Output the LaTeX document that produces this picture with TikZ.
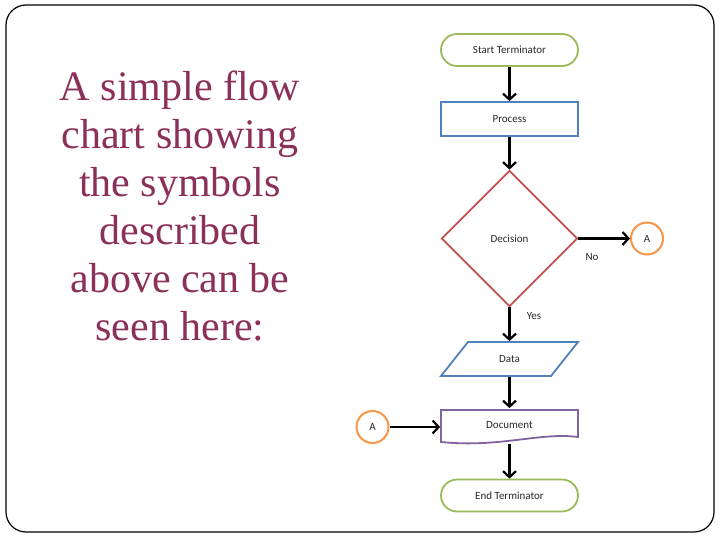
\documentclass[tikz,border=0pt]{standalone}
\usepackage{fontspec}
\setmainfont{Liberation Serif}
\newfontfamily\chartfont{Carlito}
\usetikzlibrary{arrows.meta,shapes.geometric}
\definecolor{titlecol}{RGB}{139,48,88}
\definecolor{termgreen}{HTML}{9BBB59}
\definecolor{procblue}{HTML}{4F81BD}
\definecolor{decred}{HTML}{C0504D}
\definecolor{conorange}{HTML}{F79646}
\definecolor{docpurple}{HTML}{8064A2}
\definecolor{labtext}{RGB}{40,40,40}
\begin{document}
\begin{tikzpicture}[x=1pt,y=-1pt,
  chart/.style={font=\chartfont\fontsize{11}{13}\selectfont, text=labtext, inner sep=0pt},
  shapebox/.style={chart, minimum width=137pt, minimum height=33pt, line width=1.8pt},
  term/.style={shapebox, draw=termgreen, rounded corners=16pt, minimum height=32pt},
  procbox/.style={shapebox, draw=procblue, minimum height=34pt},
  decbox/.style={chart, diamond, draw=decred, line width=1.8pt, minimum width=136pt, minimum height=136pt},
  connector/.style={chart, circle, draw=conorange, line width=2pt, minimum size=32pt},
  plainbox/.style={shapebox},
  flow/.style={-{Straight Barb[length=6pt,width=13pt]}, line width=2.2pt, black},
  lab/.style={chart}]
\useasboundingbox (0,0) rectangle (720,540);
\fill[white] (0,0) rectangle (720,540);
\draw[line width=1.2pt, rounded corners=20pt] (6,5) rectangle (714,532);

\node[font=\fontsize{42}{48}\selectfont, text=titlecol, align=center, inner sep=0pt] (title) at (180,206)
  {A simple flow\\chart showing\\the symbols\\described\\above can be\\seen here:};

\node[term] (start) at (509.5,50) {Start Terminator};
\node[procbox] (proc) at (509.5,119) {Process};
\node[decbox] (dec) at (509.5,238.5) {Decision};
\node[connector] (ca) at (647,238.5) {A};
\node[lab] (no) at (592,257.5) {No};
\node[lab] (yes) at (534,316.5) {Yes};

\draw[procblue, line width=1.8pt] (468,342) -- (578,342) -- (551,376) -- (441,376) -- cycle;
\node[plainbox, minimum width=110pt, minimum height=34pt] (data) at (509.5,359) {Data};

\draw[docpurple, line width=1.8pt] (441,410) -- (578,410) -- (578,437)
  .. controls (540,432) and (500,448) .. (441,442) -- cycle;
\node[plainbox, minimum height=32pt] (doc) at (509.5,425) {Document};
\node[connector] (cb) at (372.5,427) {A};

\node[term] (end) at (509.5,495.5) {End Terminator};

\draw[flow] (start) -- (proc);
\draw[flow] (proc) -- (dec);
\draw[flow] (dec.east) -- (ca);
\draw[flow] (dec.south) -- (data);
\draw[flow] (data) -- (doc);
\draw[flow] (cb) -- (doc.west |- cb);
\draw[flow] ([yshift=-2pt]doc.south) -- (end);
\end{tikzpicture}
\end{document}
